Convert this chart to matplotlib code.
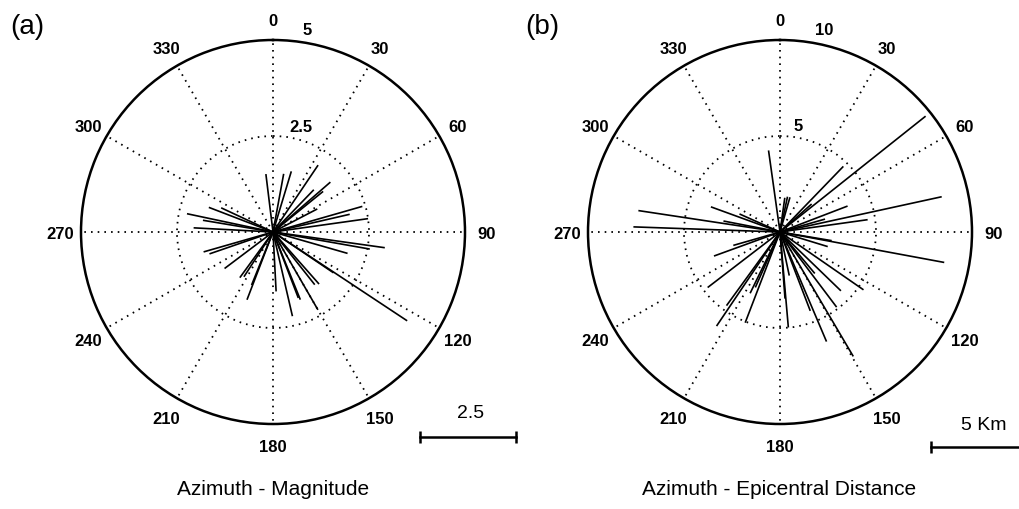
import numpy as np
import matplotlib
matplotlib.use('Agg')
import matplotlib.pyplot as plt

plt.rcParams['font.family'] = ['Liberation Sans', 'DejaVu Sans']

# (a) azimuth (deg) and magnitude of each event
az_mag = [353, 10.4, 16.8, 34, 44, 49, 51, 62.5, 74, 77, 82, 98, 100, 106,
          123.5, 124, 138.5, 141.6, 150, 158, 159, 167, 177, 201, 202, 213,
          216, 233, 251, 254, 273, 279.5, 282, 291, 295]
magnitude = [1.52, 1.54, 1.65, 2.10, 1.53, 1.98, 1.68, 1.30, 2.42, 2.05, 2.50,
             2.94, 2.56, 2.02, 4.19, 1.90, 1.81, 1.75, 2.34, 1.90, 1.84, 2.25,
             1.55, 1.89, 1.49, 1.39, 1.47, 1.58, 1.75, 1.88, 2.07, 1.85, 2.29,
             1.79, 1.49]

# (b) azimuth (deg) and epicentral distance (km)
az_dist = [352, 8, 12, 16, 44, 48.5, 51.5, 69, 74, 77.7, 82, 99.5, 100.5, 107,
           124.7, 134, 140, 143, 149.5, 157, 159, 168, 175, 175.7, 201, 204,
           206, 214, 216, 232.5, 250, 254, 272, 278.6, 281, 290, 294]
distance = [4.29, 1.80, 1.88, 1.88, 4.75, 2.20, 9.69, 3.77, 2.44, 8.62, 4.61,
            2.73, 8.70, 2.60, 5.29, 4.41, 2.82, 4.90, 7.52, 6.20, 4.40, 2.32,
            4.99, 3.48, 5.06, 3.16, 3.55, 5.91, 4.74, 4.75, 3.66, 2.53, 7.64,
            7.46, 3.00, 3.83, 2.31]

theta_ticks = list(range(0, 360, 30))

W, H = 1019, 510
fig = plt.figure(figsize=(W / 100, H / 100), dpi=100)


def rose(cx, cy, R, az, vals, rmax, inner_off, outer_off):
    rect = [(cx - R) / W, (H - cy - R) / H, 2 * R / W, 2 * R / H]
    ax = fig.add_axes(rect, projection='polar')
    ax.set_theta_zero_location('N')
    ax.set_theta_direction(-1)
    ax.set_ylim(0, rmax)
    ax.set_xticks(np.deg2rad(theta_ticks))
    ax.set_xticklabels([])
    ax.set_yticks([rmax / 2])
    ax.set_yticklabels([])
    ax.tick_params(length=0)
    ax.grid(True, color='k', lw=1.3, linestyle=(0, (0.9, 2.8)))
    ax.spines['polar'].set_linewidth(1.8)

    th = np.deg2rad(az)
    ax.vlines(th, 0, vals, color='k', lw=1.2)

    for d in theta_ticks:
        ax.text(np.deg2rad(d), rmax * 1.11, str(d), ha='center',
                va='center_baseline', fontsize=12, fontweight='bold',
                clip_on=False)

    lab = lambda v: f'{v:g}'
    ax.annotate(lab(rmax / 2), xy=(0, rmax / 2), xytext=inner_off,
                textcoords='offset points', ha='left', va='baseline',
                fontsize=12, fontweight='bold')
    ax.annotate(lab(rmax), xy=(0, rmax), xytext=outer_off,
                textcoords='offset points', ha='left', va='baseline',
                fontsize=12, fontweight='bold', annotation_clip=False)

    # cartesian overlay with the same scale, for the scale bar
    ov = fig.add_axes(rect)
    ov.set_xlim(-rmax, rmax)
    ov.set_ylim(-rmax, rmax)
    ov.axis('off')
    return ov


ova = rose(273, 233, 192, az_mag, magnitude, 5, (12, 3.8), (21.5, 4.3))
ovb = rose(780, 233, 192, az_dist, distance, 10, (10, 4.0), (25, 4.3))

# scale bars
bar_a = 2.5
x0 = 3.84
ova.plot([x0, x0 + bar_a], [-5.34, -5.34], color='k', lw=1.8, clip_on=False,
         marker='|', markersize=9, markeredgewidth=1.8)
ova.text(x0 + bar_a / 2 + 0.05, -4.71, '2.5', ha='center', va='center',
         fontsize=14)

bar_b = 5
x0 = 7.86
ovb.plot([x0, x0 + bar_b], [-11.22, -11.22], color='k', lw=1.8, clip_on=False,
         marker='|', markersize=9, markeredgewidth=1.8)
ovb.text(10.6, -10.0, '5 Km', ha='center', va='center', fontsize=14)

fig.text(273 / W, 1 - 490 / H, 'Azimuth - Magnitude', ha='center',
         va='center', fontsize=15)
fig.text(779 / W, 1 - 490 / H, 'Azimuth - Epicentral Distance', ha='center',
         va='center', fontsize=15)
fig.text(27 / W, 1 - 27 / H, '(a)', ha='center', va='center', fontsize=20)
fig.text(542 / W, 1 - 27 / H, '(b)', ha='center', va='center', fontsize=20)

fig.savefig('out.png', dpi=100)
